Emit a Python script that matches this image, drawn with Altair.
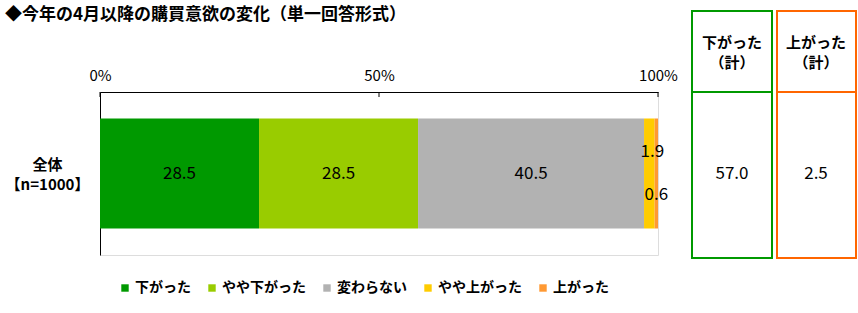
import altair as alt
import pandas as pd

FONT = "Noto Sans CJK JP"

categories = ["下がった", "やや下がった", "変わらない", "やや上がった", "上がった"]
values = [28.5, 28.5, 40.5, 1.9, 0.6]
colors = ["#009900", "#99CC00", "#B2B2B2", "#FFCC00", "#FF9933"]
group = "全体|【n=1000】"
ticks = [0, 50, 100]
title_text = "◆今年の4月以降の購買意欲の変化（単一回答形式）"
box_titles = [["下がった", "（計）"], ["上がった", "（計）"]]

rows = []
cum = 0.0
for i, (c, v) in enumerate(zip(categories, values)):
    rows.append({"group": group, "cat": c, "value": v, "idx": i,
                 "start": cum, "end": cum + v, "mid": cum + v / 2})
    cum += v
df = pd.DataFrame(rows)

down_total = round(values[0] + values[1], 1)
up_total = round(values[3] + values[4], 1)
sum_df = pd.DataFrame({"group": [group], "down": [down_total], "up": [up_total]})
tick_df = pd.DataFrame({"t": ticks})

W, H = 558, 163

xscale = alt.Scale(domain=[0, 100], nice=False, zero=True)
yenc = alt.Y("group:N", title=None,
             axis=alt.Axis(labelExpr="split(datum.label, '|')", labelAlign="center",
                           labelPadding=53, ticks=False, labelFont=FONT, labelFontSize=15,
                           labelFontWeight="bold", labelColor="black", labelLineHeight=20,
                           labelOverlap=False, labelOffset=-9,
                           domainColor="black", domainWidth=1))

bars = alt.Chart(df).mark_bar(size=110).encode(
    x=alt.X("start:Q", scale=xscale, title=None,
            axis=alt.Axis(orient="top", values=ticks, labelExpr="datum.value + '%'",
                          ticks=False, labelPadding=9, labelFont=FONT, labelFontSize=15,
                          labelFlush=False, labelColor="black", domainColor="black",
                          domainWidth=1, grid=False)),
    x2="end:Q",
    y=yenc,
    color=alt.Color("cat:N", scale=alt.Scale(domain=categories, range=colors),
                    legend=alt.Legend(title=None, orient="none", legendX=18, legendY=189,
                                      direction="horizontal", symbolType="square",
                                      symbolSize=55, symbolStrokeWidth=0, labelFont=FONT,
                                      labelFontSize=14, labelFontWeight="bold",
                                      labelColor="black", columnPadding=14, labelOffset=3)),
)

tick_rules = alt.Chart(tick_df).mark_rule(color="black").encode(
    x=alt.X("t:Q", scale=xscale), y=alt.value(0), y2=alt.value(5))

txt_props = dict(font=FONT, fontSize=17, color="black")
main_labels = alt.Chart(df).transform_filter("datum.idx < 3").mark_text(**txt_props).encode(
    x=alt.X("mid:Q", scale=xscale), y="group:N", text=alt.Text("value:Q", format=".1f"))
lab_a = alt.Chart(df).transform_filter("datum.idx == 3").mark_text(dy=-22, dx=3, **txt_props).encode(
    x=alt.X("mid:Q", scale=xscale), y="group:N", text=alt.Text("value:Q", format=".1f"))
lab_b = alt.Chart(df).transform_filter("datum.idx == 4").mark_text(dy=21, **txt_props).encode(
    x=alt.X("mid:Q", scale=xscale), y="group:N", text=alt.Text("value:Q", format=".1f"))

# Summary boxes
box_green = "#009900"
box_orange = "#FF6600"
one = pd.DataFrame({"a": [0]})


def box(x1, x2, col):
    rect = alt.Chart(one).mark_rect(fill=None, stroke=col, strokeWidth=2).encode(
        x=alt.value(x1), x2=alt.value(x2), y=alt.value(-81), y2=alt.value(166))
    div = alt.Chart(one).mark_rule(color=col, strokeWidth=2).encode(
        x=alt.value(x1), x2=alt.value(x2), y=alt.value(0))
    return rect + div


def header(xc, lines):
    return alt.Chart(pd.DataFrame({"t": [lines]})).mark_text(
        font=FONT, fontSize=15, fontWeight="bold", color="black", lineHeight=20,
        baseline="middle").encode(x=alt.value(xc), y=alt.value(-49), text="t")


down_txt = alt.Chart(sum_df).mark_text(**txt_props).encode(
    x=alt.value(632), y="group:N", text=alt.Text("down:Q", format=".1f"))
up_txt = alt.Chart(sum_df).mark_text(**txt_props).encode(
    x=alt.value(716), y="group:N", text=alt.Text("up:Q", format=".1f"))

title = alt.Chart(pd.DataFrame({"t": [title_text]})).mark_text(
    font=FONT, fontSize=17, fontWeight="bold", color="black", align="left",
    baseline="middle").encode(x=alt.value(-95), y=alt.value(-77), text="t")

chart = alt.layer(
    bars, tick_rules, main_labels, lab_a, lab_b,
    box(592, 672, box_green), box(677, 756, box_orange),
    header(632, box_titles[0]), header(716, box_titles[1]),
    down_txt, up_txt, title,
).properties(
    width=W, height=H,
    autosize=alt.AutoSizeParams(type="none"),
    padding={"left": 100, "top": 92, "right": 200, "bottom": 58},
).configure_view(stroke="#BFBFBF", strokeWidth=2).configure(background="white")

chart.save("out.html", embed_options={"renderer": "svg", "actions": False})
